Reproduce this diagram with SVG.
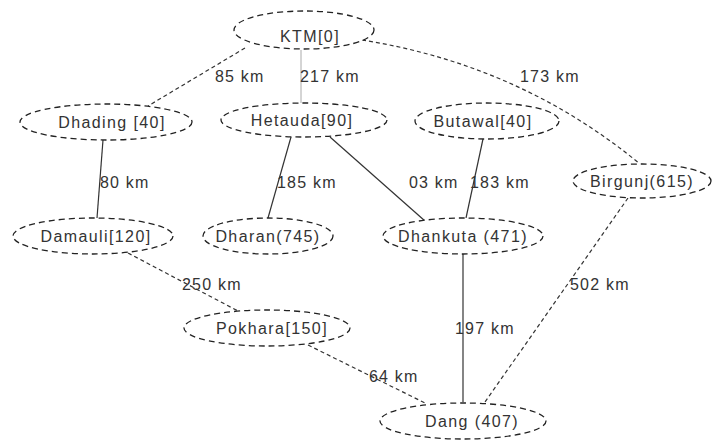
<svg xmlns="http://www.w3.org/2000/svg" width="715" height="441" viewBox="0 0 715 441">
  <style>
    .node ellipse { fill: #ffffff; stroke: #222; stroke-width: 1.3; stroke-dasharray: 6 4; }
    .node text { font-family: "Liberation Sans", Arial, sans-serif; font-size: 16px; letter-spacing: 1.4px; fill: #333; text-anchor: middle; }
    .solid { stroke: #333; stroke-width: 1.2; fill: none; }
    .thin { stroke: #aaa; stroke-width: 1; fill: none; }
    .dashed { stroke: #333; stroke-width: 1.2; stroke-dasharray: 4 3; fill: none; }
    .lbl { font-family: "Liberation Sans", Arial, sans-serif; font-size: 16px; letter-spacing: 1.2px; fill: #333; }
  </style>
  <rect width="715" height="441" fill="#ffffff"/>

  <g id="connectors">
    <line class="dashed" x1="245" y1="48" x2="148" y2="106"/>
    <line class="thin" x1="301" y1="50" x2="301" y2="103"/>
    <path class="dashed" d="M362,40 Q520,65 640,164"/>
    <line class="solid" x1="103" y1="140" x2="97" y2="218"/>
    <line class="solid" x1="291" y1="137" x2="268" y2="218"/>
    <line class="solid" x1="330" y1="137" x2="425" y2="221"/>
    <line class="solid" x1="483" y1="139" x2="466" y2="218"/>
    <line class="dashed" x1="128" y1="253" x2="238" y2="311"/>
    <line class="dashed" x1="308" y1="345" x2="425" y2="403"/>
    <line class="solid" x1="463" y1="254" x2="463" y2="402"/>
    <line class="dashed" x1="628" y1="198" x2="485" y2="402"/>

    <text class="lbl" x="215" y="82">85 km</text>
    <text class="lbl" x="300" y="82">217 km</text>
    <text class="lbl" x="520" y="82">173 km</text>
    <text class="lbl" x="100" y="188">80 km</text>
    <text class="lbl" x="277" y="188">185 km</text>
    <text class="lbl" x="409" y="188">03 km</text>
    <text class="lbl" x="470" y="188">183 km</text>
    <text class="lbl" x="182" y="290">250 km</text>
    <text class="lbl" x="570" y="290">502 km</text>
    <text class="lbl" x="455" y="334">197 km</text>
    <text class="lbl" x="369" y="382">64 km</text>
  </g>

  <g id="ktm" class="node">
    <ellipse cx="304" cy="30" rx="70" ry="19"/>
    <text x="310" y="42">KTM[0]</text>
  </g>
  <g id="dhading" class="node">
    <ellipse cx="106" cy="122" rx="86" ry="18"/>
    <text x="112" y="128">Dhading [40]</text>
  </g>
  <g id="hetauda" class="node">
    <ellipse cx="304" cy="120" rx="83" ry="17"/>
    <text x="302" y="126">Hetauda[90]</text>
  </g>
  <g id="butawal" class="node">
    <ellipse cx="487" cy="121" rx="72" ry="18"/>
    <text x="483" y="127">Butawal[40]</text>
  </g>
  <g id="birgunj" class="node">
    <ellipse cx="642" cy="181" rx="69" ry="17"/>
    <text x="642" y="187">Birgunj(615)</text>
  </g>
  <g id="damauli" class="node">
    <ellipse cx="93" cy="236" rx="80" ry="18"/>
    <text x="96" y="242">Damauli[120]</text>
  </g>
  <g id="dharan" class="node">
    <ellipse cx="268" cy="236" rx="65" ry="18"/>
    <text x="268" y="242">Dharan(745)</text>
  </g>
  <g id="dhankuta" class="node">
    <ellipse cx="463" cy="236" rx="80" ry="18"/>
    <text x="463" y="242">Dhankuta (471)</text>
  </g>
  <g id="pokhara" class="node">
    <ellipse cx="267" cy="328" rx="83" ry="18"/>
    <text x="272" y="334">Pokhara[150]</text>
  </g>
  <g id="dang" class="node">
    <ellipse cx="463" cy="421" rx="83" ry="18"/>
    <text x="472" y="427">Dang (407)</text>
  </g>
</svg>
